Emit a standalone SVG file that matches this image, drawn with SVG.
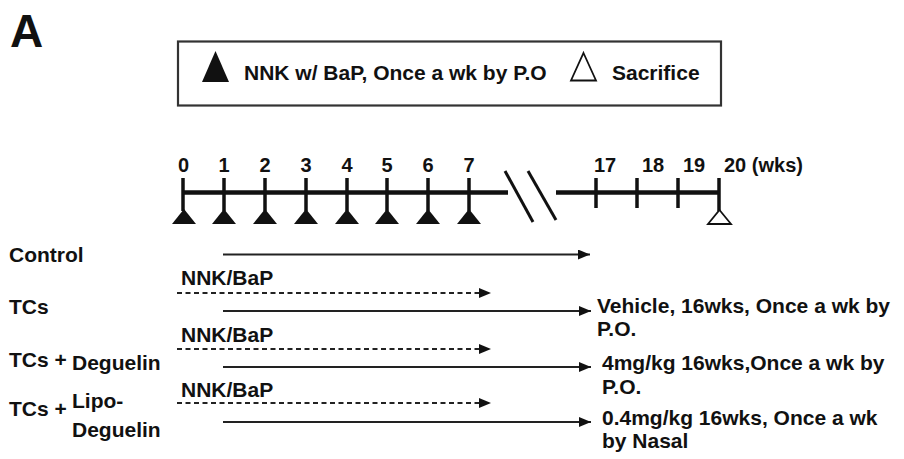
<svg xmlns="http://www.w3.org/2000/svg" width="904" height="459" viewBox="0 0 904 459">
<defs>
<marker id="ah" markerWidth="12" markerHeight="10" refX="12" refY="5" orient="auto" markerUnits="userSpaceOnUse">
<path d="M0,0 L12,5 L0,10 Z" fill="#111"/>
</marker>
<style>
text{font-family:"Liberation Sans",Arial,sans-serif;font-weight:bold;fill:#111}
.t{font-size:21px}
.n{font-size:20px}
.axis{stroke:#111;stroke-width:4.5;fill:none}
.tick{stroke:#111;stroke-width:3.5}
.solid{stroke:#222;stroke-width:2;fill:none}
.dash{stroke:#222;stroke-width:1.8;stroke-dasharray:5 3.5;fill:none}
.ft{fill:#111}
.ot{fill:#fff;stroke:#111;stroke-width:1.8}
</style>
</defs>
<rect width="904" height="459" fill="#fff"/>
<text x="10" y="47" style="font-size:46px">A</text>

<g id="legend">
<rect x="178" y="41.5" width="543" height="64" fill="#fff" stroke="#333" stroke-width="2.2"/>
<polygon class="ft" points="215.5,51 229,82 202,82"/>
<text class="t" x="244" y="80">NNK w/ BaP, Once a wk by P.O</text>
<polygon points="583.5,53 596,80.5 571,80.5" fill="none" stroke="#111" stroke-width="1.8"/>
<text class="t" x="612" y="80">Sacrifice</text>
</g>

<g id="timeline">
<line class="axis" x1="183" y1="192.5" x2="508" y2="192.5"/>
<line class="axis" x1="556" y1="192.5" x2="720" y2="192.5"/>
<line x1="505" y1="171" x2="533" y2="222" stroke="#111" stroke-width="3"/>
<line x1="528" y1="171" x2="556" y2="220" stroke="#111" stroke-width="3"/>
<g id="ticks">
<line class="tick" x1="183" y1="178" x2="183" y2="211"/>
<line class="tick" x1="224" y1="178" x2="224" y2="211"/>
<line class="tick" x1="265" y1="178" x2="265" y2="211"/>
<line class="tick" x1="306" y1="178" x2="306" y2="211"/>
<line class="tick" x1="347" y1="178" x2="347" y2="211"/>
<line class="tick" x1="387" y1="178" x2="387" y2="211"/>
<line class="tick" x1="428" y1="178" x2="428" y2="211"/>
<line class="tick" x1="469" y1="178" x2="469" y2="211"/>
<line class="tick" x1="596" y1="178" x2="596" y2="208"/>
<line class="tick" x1="637" y1="178" x2="637" y2="208"/>
<line class="tick" x1="678" y1="178" x2="678" y2="208"/>
<line class="tick" x1="719" y1="178" x2="719" y2="211"/>
</g>
<g id="doses">
<polygon class="ft" points="184,209 196,224 172,224"/>
<polygon class="ft" points="224,209 236,224 212,224"/>
<polygon class="ft" points="265,209 277,224 253,224"/>
<polygon class="ft" points="306,209 318,224 294,224"/>
<polygon class="ft" points="347,209 359,224 335,224"/>
<polygon class="ft" points="387,209 399,224 375,224"/>
<polygon class="ft" points="428,209 440,224 416,224"/>
<polygon class="ft" points="469,209 481,224 457,224"/>
<polygon class="ot" points="719.5,210 731,224 708,224"/>
</g>
<g id="labels" text-anchor="middle">
<text class="n" x="183.5" y="172">0</text>
<text class="n" x="224" y="172">1</text>
<text class="n" x="265" y="172">2</text>
<text class="n" x="306" y="172">3</text>
<text class="n" x="347" y="172">4</text>
<text class="n" x="387" y="172">5</text>
<text class="n" x="428" y="172">6</text>
<text class="n" x="469" y="172">7</text>
</g>
<text class="n" x="594" y="172">17</text>
<text class="n" x="642" y="172">18</text>
<text class="n" x="683" y="172">19</text>
<text class="n" x="724" y="172">20 (wks)</text>
</g>

<g id="row-control">
<text class="t" x="9" y="262">Control</text>
</g>
<g id="row-tcs">
<text class="t" x="9" y="314">TCs</text>
<text class="t" x="181" y="285">NNK/BaP</text>
<text class="t" x="597" y="313">Vehicle, 16wks, Once a wk by</text>
<text class="t" x="597" y="336">P.O.</text>
</g>
<g id="row-deguelin">
<text class="t" x="9" y="367">TCs +</text>
<text class="t" x="72" y="370">Deguelin</text>
<text class="t" x="181" y="342">NNK/BaP</text>
<text class="t" x="602" y="370">4mg/kg 16wks,Once a wk by</text>
<text class="t" x="602" y="394">P.O.</text>
</g>
<g id="row-lipo">
<text class="t" x="9" y="416">TCs +</text>
<text class="t" x="72" y="408">Lipo-</text>
<text class="t" x="72" y="437">Deguelin</text>
<text class="t" x="181" y="397">NNK/BaP</text>
<text class="t" x="602" y="425">0.4mg/kg 16wks, Once a wk</text>
<text class="t" x="602" y="448">by Nasal</text>
</g>

<g id="connectors">
<line class="solid" x1="223" y1="254.5" x2="590" y2="254.5" marker-end="url(#ah)"/>
<line class="dash" x1="177" y1="293" x2="491" y2="293" marker-end="url(#ah)"/>
<line class="solid" x1="223" y1="311" x2="591" y2="311" marker-end="url(#ah)"/>
<line class="dash" x1="177" y1="349" x2="491" y2="349" marker-end="url(#ah)"/>
<line class="solid" x1="223" y1="367" x2="591" y2="367" marker-end="url(#ah)"/>
<line class="dash" x1="177" y1="403" x2="491" y2="403" marker-end="url(#ah)"/>
<line class="solid" x1="223" y1="422" x2="591" y2="422" marker-end="url(#ah)"/>
</g>
</svg>
